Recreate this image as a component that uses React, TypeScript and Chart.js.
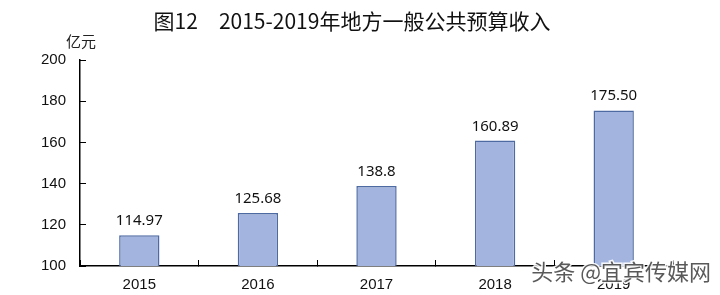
import React, { useEffect, useRef } from "react";
import { Chart, registerables } from "chart.js";

Chart.register(...registerables);

const categories = ["2015", "2016", "2017", "2018", "2019"];
const revenue = [114.97, 125.68, 138.8, 160.89, 175.5];
const valueLabels = ["114.97", "125.68", "138.8", "160.89", "175.50"];
const yTicks = [100, 120, 140, 160, 180, 200];
const titleText = "图12\u30002015-2019年地方一般公共预算收入";
const unitText = "亿元";
const watermarkText = "头条 @宜宾传媒网";

const textPlugin = {
  id: "textPlugin",
  afterDatasetsDraw(chart: any) {
    const ctx = chart.ctx;
    ctx.save();
    // title
    ctx.fillStyle = "#111";
    ctx.font = "400 21px 'Noto Sans CJK SC'";
    ctx.textAlign = "center";
    ctx.textBaseline = "middle";
    ctx.fillText(titleText, 352, 21);
    // unit
    ctx.font = "15px 'Noto Sans CJK SC'";
    ctx.fillStyle = "#222";
    ctx.fillText(unitText, 81, 41);
    // value labels
    const meta = chart.getDatasetMeta(0);
    ctx.font = "15px 'Noto Sans'";
    ctx.fillStyle = "#111";
    ctx.textBaseline = "alphabetic";
    meta.data.forEach((bar: any, i: number) => {
      ctx.fillText(valueLabels[i], bar.x, bar.y - 10);
    });
    ctx.restore();
  },
  afterDraw(chart: any) {
    const ctx = chart.ctx;
    ctx.save();
    ctx.font = "22px 'Noto Sans CJK SC'";
    ctx.textAlign = "right";
    ctx.textBaseline = "middle";
    ctx.lineWidth = 3;
    ctx.strokeStyle = "rgba(255,255,255,0.9)";
    ctx.strokeText(watermarkText, 711, 272);
    ctx.fillStyle = "rgba(60,60,60,0.85)";
    ctx.fillText(watermarkText, 711, 272);
    ctx.restore();
  },
};

export default function App() {
  const ref = useRef<HTMLCanvasElement>(null);
  useEffect(() => {
    if (!ref.current) return;
    const chart = new Chart(ref.current, {
      type: "bar",
      data: {
        labels: categories,
        datasets: [
          {
            data: revenue,
            backgroundColor: "#A3B5DE",
            borderColor: "#4E6AA3",
            borderWidth: 1.5,
            borderSkipped: false,
            barPercentage: 0.34,
            categoryPercentage: 1,
          },
        ],
      },
      options: {
        animation: false,
        responsive: false,
        maintainAspectRatio: false,
        layout: { padding: { top: 60, right: 47, left: 0, bottom: 0 } },
        plugins: {
          legend: { display: false },
          title: { display: false },
          tooltip: { enabled: false },
        },
        scales: {
          x: {
            offset: true,
            grid: {
              offset: true,
              drawOnChartArea: false,
              drawTicks: true,
              tickLength: -6,
              color: "#000",
            },
            border: { display: true, color: "#000", width: 1.5 },
            ticks: {
              color: "#111",
              font: { family: "'Liberation Sans'", size: 15 },
              padding: 16,
            },
            afterFit: (s: any) => {
              s.height = 29;
            },
          },
          y: {
            min: 100,
            max: 200,
            afterBuildTicks: (s: any) => {
              s.ticks = yTicks.map((v) => ({ value: v }));
            },
            grid: {
              drawOnChartArea: false,
              drawTicks: true,
              tickLength: -6,
              color: "#000",
            },
            border: { display: true, color: "#000", width: 1.5 },
            ticks: {
              color: "#111",
              font: { family: "'Liberation Sans'", size: 15 },
              padding: 20,
            },
            afterFit: (s: any) => {
              s.width = 80;
            },
          },
        },
      },
      plugins: [textPlugin],
    });
    return () => chart.destroy();
  }, []);
  return (
    <div style={{ position: "fixed", left: 0, top: 0, width: 720, height: 295, background: "#fff" }}>
      <canvas ref={ref} width={720} height={295} style={{ display: "block" }} />
    </div>
  );
}
